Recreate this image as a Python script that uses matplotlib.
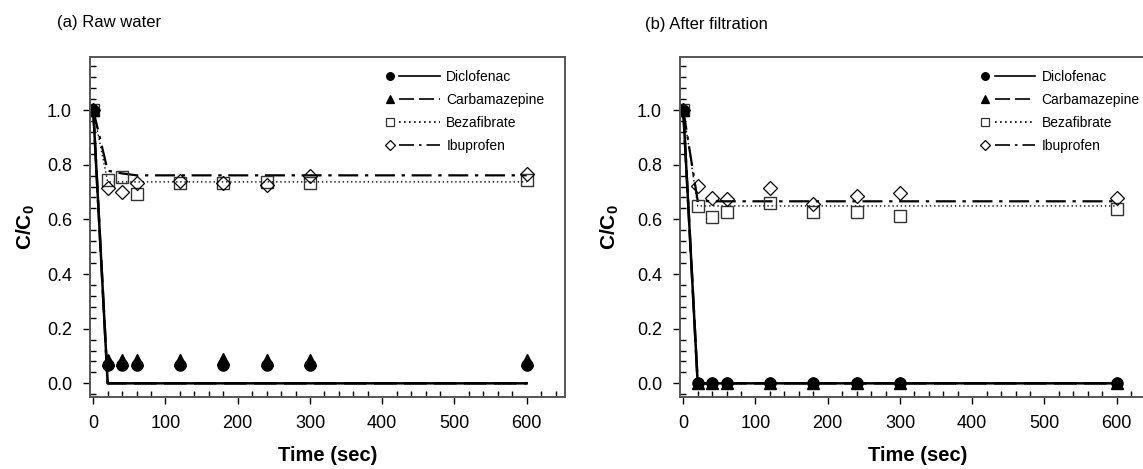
import matplotlib
matplotlib.use('Agg')
import matplotlib.pyplot as plt
from matplotlib.lines import Line2D
from matplotlib.legend_handler import HandlerBase
from matplotlib.ticker import MultipleLocator

plt.rcParams['font.family'] = ['Liberation Sans', 'DejaVu Sans']
plt.rcParams['mathtext.fontset'] = 'custom'
plt.rcParams['mathtext.rm'] = 'Liberation Sans'
plt.rcParams['mathtext.bf'] = 'Liberation Sans:bold'

# sampling times (sec)
t = [0, 20, 40, 60, 120, 180, 240, 300, 600]

# (a) raw water - measured C/C0
dic_a = [1.0, 0.067, 0.067, 0.067, 0.067, 0.067, 0.067, 0.067, 0.067]
carb_a = [1.0, 0.085, 0.085, 0.085, 0.085, 0.088, 0.085, 0.085, 0.085]
beza_a = [1.0, 0.743, 0.754, 0.693, 0.733, 0.733, 0.735, 0.733, 0.745]
ibu_a = [1.0, 0.715, 0.699, 0.733, 0.740, 0.733, 0.725, 0.760, 0.767]
# (a) model curves
dic_fit_a = [1.0, 0.0, 0.0, 0.0, 0.0, 0.0, 0.0, 0.0, 0.0]
carb_fit_a = [1.0, 0.0, 0.0, 0.0, 0.0, 0.0, 0.0, 0.0, 0.0]
beza_fit_a = [1.0, 0.737, 0.737, 0.737, 0.737, 0.737, 0.737, 0.737, 0.737]
ibu_fit_a = [1.0, 0.778, 0.768, 0.761, 0.761, 0.761, 0.761, 0.761, 0.761]

# (b) after filtration - measured C/C0
dic_b = [1.0, 0.0, 0.0, 0.0, 0.0, 0.0, 0.0, 0.0, 0.0]
carb_b = [1.0, 0.0, 0.0, 0.0, 0.0, 0.0, 0.0, 0.0, 0.0]
beza_b = [1.0, 0.650, 0.609, 0.626, 0.660, 0.628, 0.628, 0.611, 0.639]
ibu_b = [1.0, 0.723, 0.677, 0.675, 0.715, 0.656, 0.687, 0.697, 0.678]
# (b) model curves
dic_fit_b = [1.0, 0.0, 0.0, 0.0, 0.0, 0.0, 0.0, 0.0, 0.0]
carb_fit_b = [1.0, 0.0, 0.0, 0.0, 0.0, 0.0, 0.0, 0.0, 0.0]
beza_fit_b = [1.0, 0.649, 0.649, 0.649, 0.649, 0.649, 0.649, 0.649, 0.649]
ibu_fit_b = [1.0, 0.668, 0.666, 0.666, 0.666, 0.666, 0.666, 0.666, 0.666]

names = ['Diclofenac', 'Carbamazepine', 'Bezafibrate', 'Ibuprofen']
titles = ['(a) Raw water', '(b) After filtration']


class MarkerThenLine(HandlerBase):
    # marker on the left, line segment to the right of it (SigmaPlot style)
    def create_artists(self, legend, orig_handle, xdescent, ydescent,
                       width, height, fontsize, trans):
        mk, ln = orig_handle
        y = height / 2 - ydescent
        m = Line2D([-xdescent + 0.07 * width], [y], linestyle='none',
                   marker=mk.get_marker(), markersize=5.5,
                   markerfacecolor=mk.get_markerfacecolor(),
                   markeredgecolor=mk.get_markeredgecolor(),
                   markeredgewidth=0.9, transform=trans)
        l = Line2D([0, 1], [0, 1])
        l.update_from(ln)
        l.set_marker('None')
        l.set_linewidth(1.2)
        l.set_data([-xdescent + 0.25 * width, -xdescent + width], [y, y])
        l.set_transform(trans)
        return [m, l]


fig = plt.figure(figsize=(11.43, 4.69), dpi=100)
W, H = 1143, 469
ax_a = fig.add_axes([90 / W, 1 - 397 / H, 475 / W, 340 / H])
ax_b = fig.add_axes([680 / W, 1 - 397 / H, 475 / W, 340 / H])

panels = [
    (ax_a, (dic_a, carb_a, beza_a, ibu_a), (dic_fit_a, carb_fit_a, beza_fit_a, ibu_fit_a), 0.623),
    (ax_b, (dic_b, carb_b, beza_b, ibu_b), (dic_fit_b, carb_fit_b, beza_fit_b, ibu_fit_b), 0.634),
]

for ax, meas, fits, legx in panels:
    dic, carb, beza, ibu = meas
    l1, = ax.plot(t, fits[0], color='black', lw=1.8, ls='-')
    l2, = ax.plot(t, fits[1], color='black', lw=1.8, dashes=(9, 3))
    l3, = ax.plot(t, fits[2], color='black', lw=1.0, dashes=(1, 2))
    l4, = ax.plot(t, fits[3], color='black', lw=1.6, dashes=(9, 3, 1.5, 3))
    m3, = ax.plot(t, beza, ls='none', marker='s', ms=8, mfc='none', mec='#333333', mew=1.0)
    m4, = ax.plot(t, ibu, ls='none', marker='D', ms=7.5, mfc='none', mec='black', mew=0.9)
    m2, = ax.plot(t, carb, ls='none', marker='^', ms=8.5, color='black')
    m1, = ax.plot(t, dic, ls='none', marker='o', ms=8, color='black')

    ax.set_xlim(-4.5, 653)
    ax.set_ylim(-0.05, 1.194)
    ax.xaxis.set_major_locator(MultipleLocator(100))
    ax.xaxis.set_minor_locator(MultipleLocator(20))
    ax.yaxis.set_major_locator(MultipleLocator(0.2))
    ax.yaxis.set_minor_locator(MultipleLocator(0.04))
    ax.yaxis.set_major_formatter(matplotlib.ticker.FormatStrFormatter('%.1f'))
    ax.tick_params(which='major', direction='out', length=5, width=1, labelsize=13, pad=8)
    ax.tick_params(which='minor', direction='in', length=4, width=1)
    for s in ax.spines.values():
        s.set_color('#555555')
        s.set_linewidth(1.4)

    ax.legend([(m1, l1), (m2, l2), (m3, l3), (m4, l4)], names,
              handler_map={tuple: MarkerThenLine()},
              loc='upper left', bbox_to_anchor=(legx, 0.962),
              frameon=False, borderpad=0, borderaxespad=0,
              handlelength=3.9, handletextpad=0.45, labelspacing=0.64,
              prop={'size': 10})

    ax.set_xlabel('Time (sec)', fontsize=14.5, fontweight='bold', labelpad=10)

fig.text(26 / W, 1 - 227 / H, r'$\mathbf{C/C_0}$', fontsize=15, rotation=90,
         ha='center', va='center')
fig.text(610 / W, 1 - 227 / H, r'$\mathbf{C/C_0}$', fontsize=15, rotation=90,
         ha='center', va='center')
fig.text(57 / W, 1 - 23 / H, titles[0], fontsize=12, ha='left', va='center')
fig.text(645 / W, 1 - 25 / H, titles[1], fontsize=12, ha='left', va='center')

fig.savefig('out.png', dpi=100)
